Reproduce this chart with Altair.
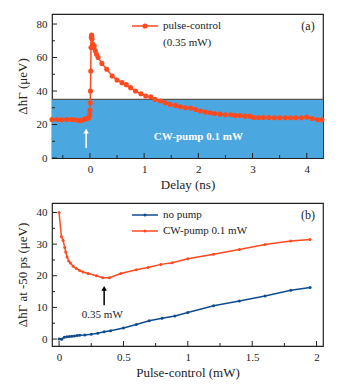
import altair as alt
import pandas as pd

# ---------------- data ----------------
# panel (a): pulse-control (0.35 mW) vs delay
delay = [-0.70, -0.61, -0.52, -0.43, -0.34, -0.27, -0.20, -0.15, -0.10, -0.06, -0.03,
         -0.015, -0.005, 0.0, 0.005, 0.01, 0.015, 0.02, 0.025, 0.03, 0.035, 0.04, 0.05,
         0.06, 0.08, 0.10, 0.12, 0.15, 0.22, 0.31, 0.41, 0.50, 0.59, 0.67, 0.75, 0.84,
         0.94, 1.03, 1.12, 1.20, 1.30, 1.39, 1.48, 1.58, 1.67, 1.76, 1.86, 1.95, 2.04,
         2.13, 2.22, 2.30, 2.40, 2.50, 2.60, 2.68, 2.77, 2.86, 2.95, 3.02, 3.11, 3.20,
         3.30, 3.40, 3.50, 3.60, 3.70, 3.80, 3.90, 4.00, 4.10, 4.20, 4.28]
gamma_a = [23.0, 23.0, 22.8, 23.0, 23.0, 22.8, 22.3, 22.5, 23.2, 23.5, 24.0,
           24.5, 26.0, 28.5, 33.0, 40.0, 52.0, 66.0, 72.0, 73.4, 72.5, 71.0, 68.0,
           66.0, 67.0, 64.0, 62.0, 60.0, 56.5, 53.0, 49.0, 46.6, 45.0, 43.8, 42.0, 40.0,
           38.4, 37.0, 36.6, 35.0, 34.0, 33.0, 32.0, 31.4, 30.6, 30.0, 29.8, 29.0, 28.0,
           27.4, 27.0, 26.6, 26.2, 25.8, 25.8, 25.4, 25.4, 25.0, 25.0, 24.2, 24.2, 24.2,
           24.2, 24.0, 24.0, 24.0, 24.0, 24.0, 24.0, 24.4, 23.6, 22.8, 22.8]
cw_level = 35.0

# panel (b): ΔħΓ at -50 ps vs pulse-control power
power_cw = [0.0, 0.018, 0.031, 0.044, 0.052, 0.062, 0.075, 0.088, 0.109, 0.134, 0.16,
            0.186, 0.225, 0.29, 0.34, 0.39, 0.48, 0.60, 0.69, 0.79, 0.88, 1.0, 1.2,
            1.4, 1.6, 1.8, 1.95]
gamma_cw = [40.0, 32.4, 31.2, 28.9, 27.5, 25.9, 24.7, 24.0, 23.0, 22.3, 21.7,
            21.2, 20.7, 20.0, 19.4, 19.4, 20.7, 21.9, 22.6, 23.6, 24.1, 25.4, 26.8,
            28.3, 29.9, 31.0, 31.5]
power_np = [0.0, 0.02, 0.04, 0.06, 0.08, 0.10, 0.12, 0.14, 0.16, 0.20, 0.25, 0.30,
            0.35, 0.40, 0.50, 0.60, 0.70, 0.80, 0.90, 1.0, 1.2, 1.4, 1.6, 1.8, 1.95]
gamma_np = [0.0, -0.1, 0.6, 0.7, 0.8, 0.9, 1.0, 1.1, 1.2, 1.3, 1.5, 1.8,
            2.3, 2.6, 3.5, 4.6, 5.8, 6.6, 7.3, 8.4, 10.5, 12.0, 13.6, 15.4, 16.3]

xa_major = [0, 1, 2, 3, 4]
xa_minor = [-0.5, 0.5, 1.5, 2.5, 3.5]
ya_major = [0, 20, 40, 60, 80]
ya_minor = [10, 30, 50, 70]
xb_major = [0, 0.5, 1, 1.5, 2]
xb_minor = [0.25, 0.75, 1.25, 1.75]
yb_major = [0, 10, 20, 30, 40]
yb_minor = [5, 15, 25, 35]

# ---------------- style ----------------
RED = "#FF4A1F"
BLUE = "#0F4C8E"
BAND = "#4BA7DF"
INK = "#222222"
FONT = "Liberation Serif, Times New Roman, serif"
W = 271
HA = 144
HB = 143

ax_style = dict(ticks=False, domain=False, grid=False, labelFont=FONT, labelFontSize=11,
                labelColor=INK, titleFont=FONT, titleFontSize=13, titleFontWeight="normal",
                titleColor=INK, labelPadding=5)

xa_scale = alt.Scale(domain=[-0.7, 4.3], nice=False, zero=False)
ya_scale = alt.Scale(domain=[0, 86], nice=False, zero=False)
xb_scale = alt.Scale(domain=[-0.055, 2.05], nice=False, zero=False)
yb_scale = alt.Scale(domain=[-2.2, 43], nice=False, zero=False)

xa_axis = alt.Axis(values=xa_major, format="~r", title="Delay (ns)", titlePadding=4, **ax_style)
ya_axis = alt.Axis(values=ya_major, format="~r", title="ΔħΓ (μeV)", titlePadding=7, **ax_style)
xb_axis = alt.Axis(values=xb_major, format="~r", title="Pulse-control (mW)", titlePadding=4, **ax_style)
yb_axis = alt.Axis(values=yb_major, format="~r", title="ΔħΓ at -50 ps (μeV)", titlePadding=7, **ax_style)


def X(scale, axis):
    return alt.X("x:Q", scale=scale, axis=axis)


def Y(scale, axis):
    return alt.Y("y:Q", scale=scale, axis=axis)


def tick_layers(xs_major, xs_minor, ys_major, ys_minor, xs, ys, xaxis, yaxis, h):
    layers = []
    for vals, ln in ((xs_major, 5), (xs_minor, 3)):
        layers.append(alt.Chart(pd.DataFrame({"x": vals})).mark_rule(color=INK, strokeWidth=1).encode(
            x=X(xs, xaxis), y=alt.value(h), y2=alt.value(h - ln)))
    for vals, ln in ((ys_major, 5), (ys_minor, 3)):
        layers.append(alt.Chart(pd.DataFrame({"y": vals})).mark_rule(color=INK, strokeWidth=1).encode(
            y=Y(ys, yaxis), x=alt.value(0), x2=alt.value(ln)))
    return layers


one = pd.DataFrame({"k": [0]})


def legend_entry(color, label, ypix, dot_size):
    return [
        alt.Chart(one).mark_rule(color=color, strokeWidth=1.5).encode(
            x=alt.value(80), x2=alt.value(106), y=alt.value(ypix)),
        alt.Chart(one).mark_circle(color=color, opacity=1, size=dot_size).encode(
            x=alt.value(93), y=alt.value(ypix)),
        alt.Chart(one).mark_text(text=label, align="left", baseline="middle", font=FONT,
                                 fontSize=11, color=INK).encode(
            x=alt.value(111), y=alt.value(ypix)),
    ]


# ---------------- panel (a) ----------------
df_band = pd.DataFrame({"x": [-0.7], "x2": [4.3], "y": [0.0], "y2": [cw_level]})
band = alt.Chart(df_band).mark_rect(color=BAND).encode(
    x=X(xa_scale, xa_axis), x2="x2", y=Y(ya_scale, ya_axis), y2="y2")
band_edge = alt.Chart(pd.DataFrame({"y": [cw_level]})).mark_rule(color="#555555", strokeWidth=1.3).encode(
    y=Y(ya_scale, ya_axis))

df_a = pd.DataFrame({"x": delay, "y": gamma_a})
line_a = alt.Chart(df_a).mark_line(color=RED, strokeWidth=1.5).encode(
    x=X(xa_scale, xa_axis), y=Y(ya_scale, ya_axis))
pts_a = alt.Chart(df_a).mark_circle(color=RED, opacity=1, size=26).encode(
    x=X(xa_scale, xa_axis), y=Y(ya_scale, ya_axis))

arrow_a = alt.Chart(pd.DataFrame({"x": [-0.07], "y": [6.0], "y2": [15.5]})).mark_rule(
    color="white", strokeWidth=1.5).encode(x=X(xa_scale, xa_axis), y=Y(ya_scale, ya_axis), y2="y2")
head_a = alt.Chart(pd.DataFrame({"x": [-0.07], "y": [16.0]})).mark_point(
    shape="triangle-up", filled=True, color="white", opacity=1, size=30).encode(
    x=X(xa_scale, xa_axis), y=Y(ya_scale, ya_axis))
cw_text = alt.Chart(pd.DataFrame({"x": [2.0], "y": [12.3]})).mark_text(
    text="CW-pump 0.1 mW", font=FONT, fontSize=11, fontWeight="bold", color="white").encode(
    x=X(xa_scale, xa_axis), y=Y(ya_scale, ya_axis))

lab_a = alt.Chart(one).mark_text(text="(a)", font=FONT, fontSize=12, color=INK, align="center",
                                 baseline="middle").encode(x=alt.value(256), y=alt.value(12))
leg_a = legend_entry(RED, "pulse-control", 12, 26) + [
    alt.Chart(one).mark_text(text="(0.35 mW)", align="left", baseline="middle", font=FONT,
                             fontSize=11, color=INK).encode(x=alt.value(111), y=alt.value(29))]

top = alt.layer(
    band, band_edge, line_a, pts_a, arrow_a, head_a, cw_text,
    *tick_layers(xa_major, xa_minor, ya_major, ya_minor, xa_scale, ya_scale, xa_axis, ya_axis, HA),
    lab_a, *leg_a,
).properties(width=W, height=HA)

# ---------------- panel (b) ----------------
df_np = pd.DataFrame({"x": power_np, "y": gamma_np})
df_cw = pd.DataFrame({"x": power_cw, "y": gamma_cw})
layers_b = []
for d, c in ((df_np, BLUE), (df_cw, RED)):
    layers_b.append(alt.Chart(d).mark_line(color=c, strokeWidth=1.5).encode(
        x=X(xb_scale, xb_axis), y=Y(yb_scale, yb_axis)))
    layers_b.append(alt.Chart(d).mark_circle(color=c, opacity=1, size=9).encode(
        x=X(xb_scale, xb_axis), y=Y(yb_scale, yb_axis)))

arrow_b = alt.Chart(pd.DataFrame({"x": [0.35], "y": [10.7], "y2": [15.6]})).mark_rule(
    color="black", strokeWidth=1.5).encode(x=X(xb_scale, xb_axis), y=Y(yb_scale, yb_axis), y2="y2")
head_b = alt.Chart(pd.DataFrame({"x": [0.35], "y": [16.0]})).mark_point(
    shape="triangle-up", filled=True, color="black", opacity=1, size=30).encode(
    x=X(xb_scale, xb_axis), y=Y(yb_scale, yb_axis))
txt_b = alt.Chart(pd.DataFrame({"x": [0.336], "y": [7.6]})).mark_text(
    text="0.35 mW", font=FONT, fontSize=11, color=INK).encode(
    x=X(xb_scale, xb_axis), y=Y(yb_scale, yb_axis))

lab_b = alt.Chart(one).mark_text(text="(b)", font=FONT, fontSize=12, color=INK, align="center",
                                 baseline="middle").encode(x=alt.value(256), y=alt.value(12))
leg_b = legend_entry(BLUE, "no pump", 12, 9) + legend_entry(RED, "CW-pump 0.1 mW", 28, 9)

bottom = alt.layer(
    *layers_b, arrow_b, head_b, txt_b,
    *tick_layers(xb_major, xb_minor, yb_major, yb_minor, xb_scale, yb_scale, xb_axis, yb_axis, HB),
    lab_b, *leg_b,
).properties(width=W, height=HB)

chart = alt.vconcat(top, bottom, spacing=10).properties(
    padding={"left": 7, "top": 5, "right": 5, "bottom": 5},
    background="white",
).configure_view(stroke=INK, strokeWidth=1.2)

chart.save("out.html", embed_options={"renderer": "svg", "actions": False})
